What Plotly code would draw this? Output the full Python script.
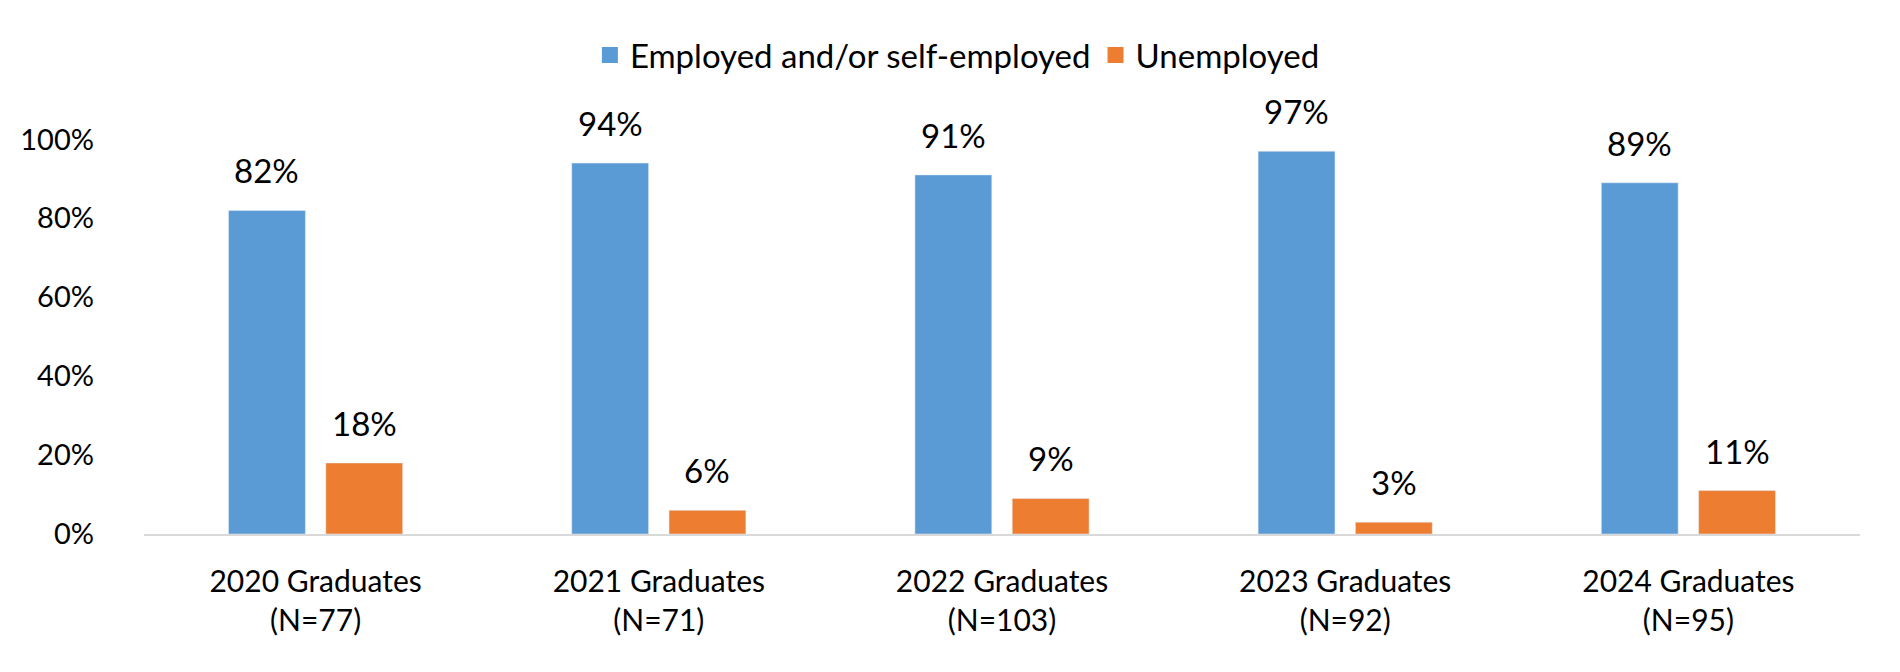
import plotly.graph_objects as go

# 졸업 연도별 취업 현황 (%)
categories = ["2020 Graduates<br>(N=77)", "2021 Graduates<br>(N=71)", "2022 Graduates<br>(N=103)",
              "2023 Graduates<br>(N=92)", "2024 Graduates<br>(N=95)"]
employed = [82, 94, 91, 97, 89]
unemployed = [18, 6, 9, 3, 11]
y_ticks = [0, 20, 40, 60, 80, 100]

FONT = "Lato, 'Open Sans', sans-serif"
BLUE = "#5B9BD5"
ORANGE = "#ED7D31"
BARGAP = 0.433
BARGROUPGAP = 0.21

series = [("Employed and/or self-employed", employed, BLUE),
          ("Unemployed", unemployed, ORANGE)]

fig = go.Figure()
slot = (1 - BARGAP) / len(series)
annotations = []
for i, (name, vals, color) in enumerate(series):
    fig.add_trace(go.Bar(x=categories, y=vals, name=name, marker_color=color,
                         showlegend=False))
    # 범례용 사각형 마커
    fig.add_trace(go.Scatter(x=[None], y=[None], mode="markers", name=name,
                             marker=dict(symbol="square", size=18, color=color)))
    offset = (i - (len(series) - 1) / 2) * slot
    for j, v in enumerate(vals):
        annotations.append(dict(x=j + offset, y=v, xref="x", yref="y", text=f"{v}%",
                                showarrow=False, yanchor="bottom", yshift=18,
                                font=dict(size=33)))

fig.update_layout(
    width=1900, height=672,
    margin=dict(l=133, r=48, t=88, b=146),
    plot_bgcolor="white", paper_bgcolor="white",
    font=dict(family=FONT, size=30, color="black"),
    barmode="group", bargap=BARGAP, bargroupgap=BARGROUPGAP,
    annotations=annotations,
    legend=dict(orientation="h", x=0.474, xanchor="center", y=0.93, yanchor="middle",
                yref="container", font=dict(size=33), itemwidth=30, tracegroupgap=0),
)
fig.update_yaxes(range=[0, 111], tickvals=y_ticks, ticktext=[f"{v}%" for v in y_ticks],
                 tickfont=dict(size=29), showgrid=False, zeroline=False, showline=False,
                 ticklabelstandoff=49)
fig.update_xaxes(showline=True, linecolor="#d9d9d9", linewidth=2, ticks="",
                 ticklabelstandoff=20)

fig.write_html("out.html")
